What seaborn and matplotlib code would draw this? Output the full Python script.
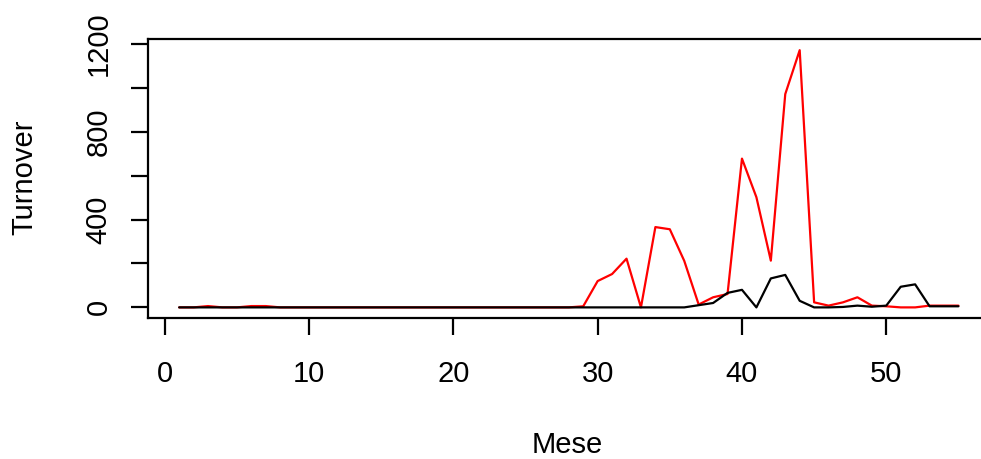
import matplotlib
matplotlib.use("Agg")
import matplotlib.pyplot as plt
import seaborn as sns
import pandas as pd

months = list(range(1, 56))

black_series = [0, 0, 0, 0, 0, 0, 0, 0, 0, 0,
                0, 0, 0, 0, 0, 0, 0, 0, 0, 0,
                0, 0, 0, 0, 0, 0, 0, 0, 0, 0,
                0, 0, 0, 0, 0, 0, 10, 20, 66, 80,
                0, 132, 148, 30, 0, 0, 2, 8, 3, 8,
                94, 105, 5, 5, 5]

red_series = [0, 0, 6, 0, 0, 6, 6, 0, 0, 0,
              0, 0, 0, 0, 0, 0, 0, 0, 0, 0,
              0, 0, 0, 0, 0, 0, 0, 0, 5, 120,
              152, 222, 0, 366, 356, 212, 13, 46, 61, 678,
              502, 213, 972, 1172, 23, 8, 23, 46, 8, 5,
              0, 0, 8, 8, 8]

x_ticks = [0, 10, 20, 30, 40, 50]
y_ticks = [0, 200, 400, 600, 800, 1000, 1200]
y_tick_labels = ["0", "", "400", "", "800", "", "1200"]

df = pd.DataFrame({"Mese": months, "black": black_series, "red": red_series})

sns.set_style("white")
plt.rcParams["font.family"] = ["Liberation Sans", "DejaVu Sans"]
plt.rcParams["text.color"] = "black"

W, H = 981, 459
fig = plt.figure(figsize=(W / 100, H / 100), dpi=100)
left, right, top, bottom = 148, 989.6, 39, 317.7
ax = fig.add_axes([left / W, (H - bottom) / H, (right - left) / W, (bottom - top) / H])

sns.lineplot(data=df, x="Mese", y="red", color="#ff0000", linewidth=1.6,
             estimator=None, ax=ax)
sns.lineplot(data=df, x="Mese", y="black", color="#000000", linewidth=1.6,
             estimator=None, ax=ax)

ax.set_xlim(-1.16, 57.16)
ax.set_ylim(-47, 1223)
ax.set_xticks(x_ticks)
ax.set_xticklabels([str(t) for t in x_ticks])
ax.set_yticks(y_ticks)
ax.set_yticklabels(y_tick_labels, rotation=90, va="center")
ax.set_xlabel("")
ax.set_ylabel("")

for s in ax.spines.values():
    s.set_visible(True)
    s.set_color("black")
    s.set_linewidth(1.6)

ax.tick_params(axis="both", direction="out", length=12.5, width=1.6,
               labelsize=21, colors="black", left=True, bottom=True)
ax.tick_params(axis="x", pad=18)
ax.tick_params(axis="y", pad=13)

fig.text(567 / W, 1 - 445 / H, "Mese", ha="center", va="center", fontsize=21,
         color="black")
fig.text(24 / W, 1 - 177.5 / H, "Turnover", ha="center", va="center",
         rotation=90, fontsize=21, color="black")

fig.savefig("out.png", dpi=100)
